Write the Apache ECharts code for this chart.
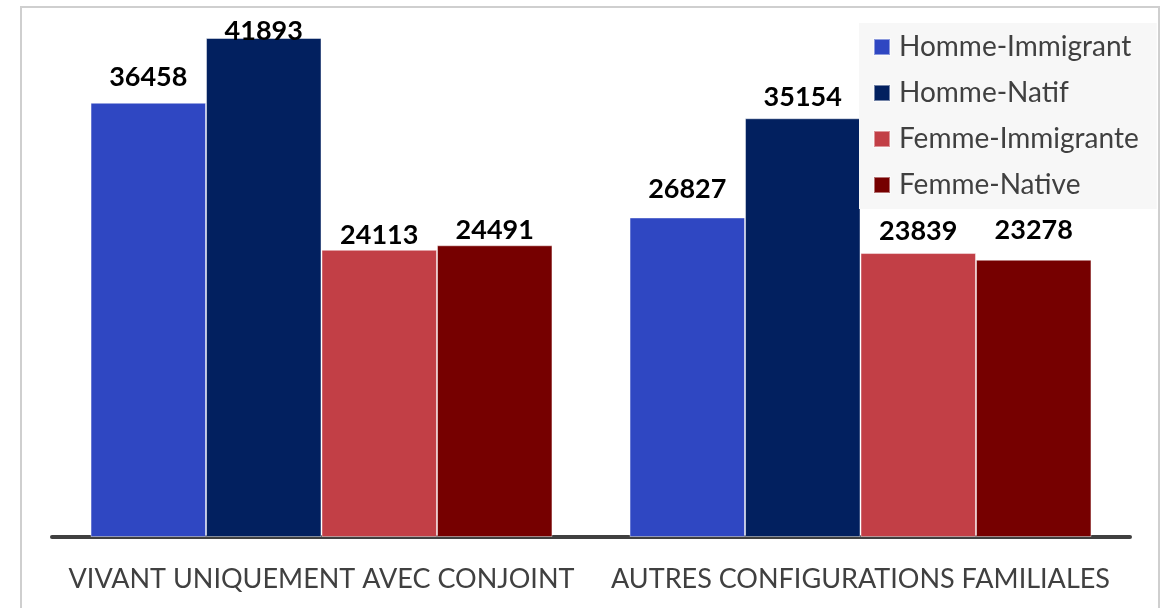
<!DOCTYPE html>
<html>
<head>
<meta charset="utf-8">
<script src="https://cdn.jsdelivr.net/npm/echarts@6/dist/echarts.min.js"></script>
<style>
html,body{margin:0;padding:0;background:#fff;}
#chart{width:1167px;height:608px;}
</style>
</head>
<body>
<div id="chart"></div>
<script>
// ---- data ----
const categories = ['VIVANT UNIQUEMENT AVEC CONJOINT', 'AUTRES CONFIGURATIONS FAMILIALES'];
const seriesNames = ['Homme-Immigrant', 'Homme-Natif', 'Femme-Immigrante', 'Femme-Native'];
const hommeImmigrant = [36458, 26827];
const hommeNatif = [41893, 35154];
const femmeImmigrante = [24113, 23839];
const femmeNative = [24491, 23278];

// ---- styling / layout ----
const colors = ['#2F47C2', '#02205F', '#C23F46', '#760000'];
// distance (px) from bar top to the centre of each value label, as placed in the original
const labelLift = [[25, 28], [7, 21], [14, 22], [15, 29]];
const FONT = 'Lato, "Open Sans", sans-serif';

const values = [hommeImmigrant, hommeNatif, femmeImmigrante, femmeNative];

const series = seriesNames.map((name, si) => ({
  name: name,
  type: 'bar',
  barGap: '0%',
  barCategoryGap: '14.3%',
  itemStyle: { color: colors[si], borderColor: 'rgba(255,255,255,0.45)', borderWidth: 1 },
  data: values[si].map((v, ci) => ({
    value: v,
    label: { distance: labelLift[si][ci] }
  })),
  label: {
    show: true,
    position: 'top',
    verticalAlign: 'middle',
    color: '#000',
    fontFamily: FONT,
    fontWeight: 'bold',
    fontSize: 27
  }
}));

const chart = echarts.init(document.getElementById('chart'), null, { renderer: 'canvas' });
chart.setOption({
  animation: false,
  backgroundColor: '#fff',
  color: colors,
  graphic: [{
    type: 'rect',
    shape: { x: 21, y: 7, width: 1138, height: 640 },
    style: { fill: null, stroke: '#cfcfcf', lineWidth: 2 },
    z: -1
  }],
  grid: { left: 52, right: 37, top: 1, bottom: 71, containLabel: false },
  legend: {
    orient: 'vertical',
    left: 859,
    top: 23,
    padding: [9, 18, 9, 14],
    backgroundColor: '#f7f7f7',
    itemWidth: 16,
    itemHeight: 16,
    itemGap: 16,
    icon: 'rect',
    data: seriesNames,
    textStyle: {
      fontFamily: FONT,
      fontSize: 28,
      lineHeight: 30,
      color: '#404040',
      padding: [0, 0, 0, 4]
    }
  },
  xAxis: {
    type: 'category',
    data: categories,
    axisLine: { lineStyle: { color: '#404040', width: 4 } },
    axisTick: { show: false },
    axisLabel: {
      interval: 0,
      fontFamily: FONT,
      fontSize: 27,
      lineHeight: 30,
      color: '#404040',
      margin: 27
    }
  },
  yAxis: {
    type: 'value',
    min: 0,
    max: 45000,
    show: false,
    splitLine: { show: false }
  },
  series: series
});
</script>
</body>
</html>
